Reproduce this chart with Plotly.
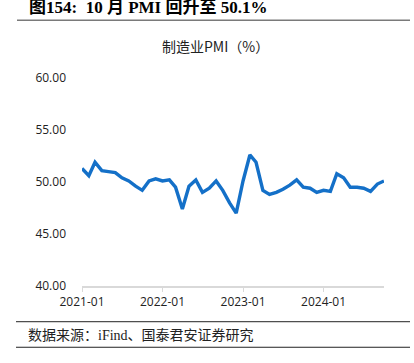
import plotly.graph_objects as go

months = [f"{y}-{m:02d}-01" for y in range(2021, 2025) for m in range(1, 13)][:46]
pmi = [51.3, 50.6, 51.9, 51.1, 51.0, 50.9, 50.4, 50.1, 49.6, 49.2, 50.1, 50.3,
       50.1, 50.2, 49.5, 47.4, 49.6, 50.2, 49.0, 49.4, 50.1, 49.2, 48.0, 47.0,
       50.1, 52.6, 51.9, 49.2, 48.8, 49.0, 49.3, 49.7, 50.2, 49.5, 49.4, 49.0,
       49.2, 49.1, 50.8, 50.4, 49.5, 49.5, 49.4, 49.1, 49.8, 50.1]
xtick_vals = ["2021-01-01", "2022-01-01", "2023-01-01", "2024-01-01"]
xtick_text = ["2021-01", "2022-01", "2023-01", "2024-01"]
ytick_vals = [40, 45, 50, 55, 60]
ytick_text = ["40.00", "45.00", "50.00", "55.00", "60.00"]

W, H = 414, 363
L, R, T, B = 82, 30, 77.5, 77
PW, PH = W - L - R, H - T - B


def px(X):
    return (X - L) / PW


def py(Y):
    return (H - B - Y) / PH


fig = go.Figure()
fig.add_trace(go.Scatter(x=months, y=pmi, mode="lines",
                         line=dict(color="#1470C8", width=3.4), hoverinfo="skip"))

fig.update_layout(
    width=W, height=H,
    margin=dict(l=L, r=R, t=T, b=B, pad=0, autoexpand=False),
    paper_bgcolor="white", plot_bgcolor="white",
    showlegend=False,
    font=dict(family="Open Sans, Noto Sans CJK SC", size=12, color="#222"),
    xaxis=dict(range=["2021-01-01", "2024-10-01"], automargin=False,
               tickvals=xtick_vals, ticktext=xtick_text,
               showgrid=False, zeroline=False, showline=True, linecolor="#d9d9d9", linewidth=1.5,
               ticks="outside", ticklen=4, tickcolor="#d9d9d9", tickfont=dict(size=12, color="#222")),
    yaxis=dict(range=[40, 60], automargin=False,
               tickvals=ytick_vals, ticktext=ytick_text,
               showgrid=False, zeroline=False, showline=False, ticks="",
               tickfont=dict(size=12, color="#222"), ticklabelstandoff=15),
    shapes=[
        dict(type="line", xref="paper", yref="paper", x0=px(17), x1=px(410),
             y0=py(19.5), y1=py(19.5), line=dict(color="#7a7a7a", width=1.2)),
        dict(type="line", xref="paper", yref="paper", x0=px(16), x1=px(410),
             y0=py(321.8), y1=py(321.8), line=dict(color="#222", width=1)),
        dict(type="line", xref="paper", yref="paper", x0=px(16), x1=px(410),
             y0=py(347.4), y1=py(347.4), line=dict(color="#222", width=1)),
    ],
    annotations=[
        dict(text=" ", xref="paper", yref="paper", x=px(17), y=py(19.5),
             xanchor="left", yanchor="middle", showarrow=False, width=393, height=1,
             bgcolor="#7a7a7a", borderpad=0, borderwidth=0, font=dict(size=1)),
        dict(text="<b>图154:  10 月 PMI 回升至 50.1%</b>", xref="paper", yref="paper",
             x=px(27), y=py(6.5), xanchor="left", yanchor="middle", showarrow=False,
             font=dict(family="Liberation Serif, Noto Sans CJK SC", size=17, color="#000")),
        dict(text="制造业PMI（%）", xref="paper", yref="paper", x=px(215), y=py(45),
             xanchor="center", yanchor="middle", showarrow=False,
             font=dict(family="Noto Sans CJK SC", size=14, color="#222")),
        dict(text="数据来源：iFind、国泰君安证券研究", xref="paper", yref="paper",
             x=px(26), y=py(336), xanchor="left", yanchor="middle", showarrow=False,
             font=dict(family="Liberation Serif, Noto Sans CJK SC", size=14, color="#222")),
    ],
)

post = (
    "document.documentElement.style.margin='0';"
    "document.body.style.margin='0';document.body.style.padding='0';"
    "var d=document.getElementById('{plot_id}');"
    "d.style.position='absolute';d.style.left='0px';d.style.top='0px';"
)
fig.write_html("out.html", config={"displayModeBar": False}, post_script=post)
